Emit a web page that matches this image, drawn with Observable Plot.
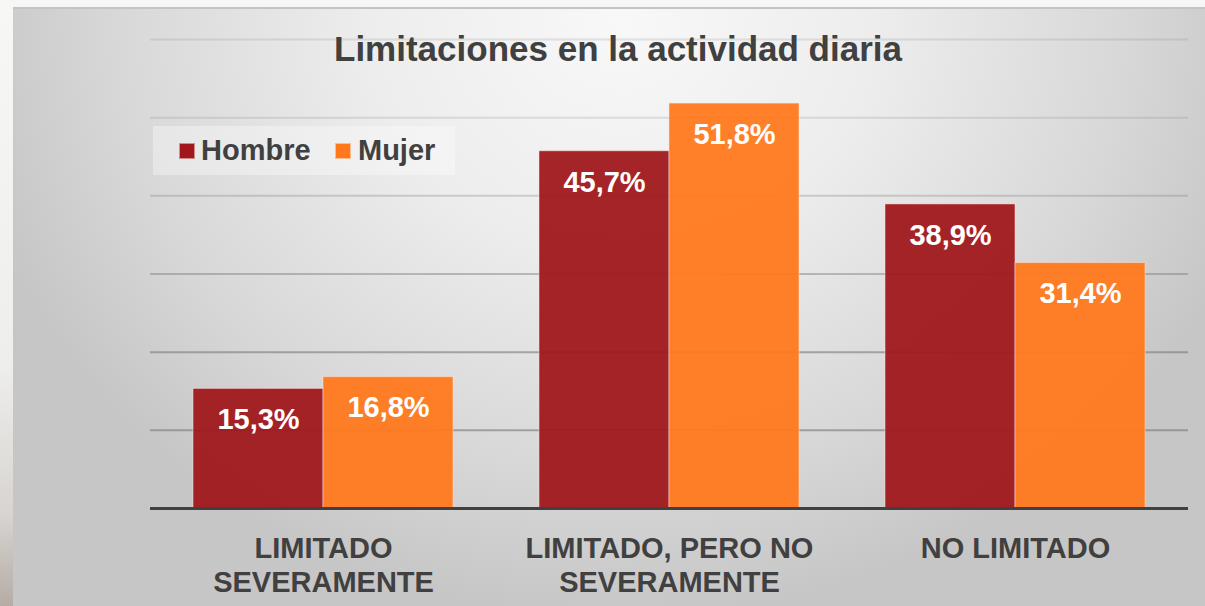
<!DOCTYPE html>
<html><head><meta charset="utf-8">
<script src="https://cdn.jsdelivr.net/npm/d3@7"></script>
<script src="https://cdn.jsdelivr.net/npm/@observablehq/plot@0.6"></script>
<style>
html,body{margin:0;padding:0;width:1205px;height:606px;overflow:hidden;background:#f6f6f4;font-family:"Liberation Sans",Arial,sans-serif;}
#strip{position:absolute;left:0;top:0;width:13px;height:606px;background:linear-gradient(#f7f7f5 0%, #eeeeec 60%, #d8d4d0 85%, #b5aca5 100%);}
#frame{position:absolute;left:13px;top:7px;width:1192px;height:599px;border-top:2px solid #c4c4c4;box-sizing:border-box;background:radial-gradient(ellipse 56% 100% at 51% 2%, #f8f8f8 0%, #ededed 38%, #d8d8d8 75%, #c6c6c6 100%);}
#chart{position:absolute;left:0;top:0;}
#title{position:absolute;left:618px;top:31px;transform:translateX(-50%);font-size:35px;line-height:35px;font-weight:bold;color:#404040;white-space:nowrap;}
#legendbox{position:absolute;left:153px;top:126px;width:302px;height:49px;background:rgba(255,255,255,0.35);}
.sw{position:absolute;width:14px;height:14px;top:143px;border:1px solid rgba(255,255,255,0.5);}
.lt{position:absolute;top:136px;font-size:29px;line-height:29px;font-weight:bold;color:#404040;white-space:nowrap;}
</style>
</head>
<body>
<div id="strip"></div>
<div id="frame"></div>
<div id="chart"></div>
<div id="title"></div>
<div id="legendbox"></div>
<div id="legend"></div>
<script>
const chartTitle = "Limitaciones en la actividad diaria";
const categories = ["LIMITADO\nSEVERAMENTE", "LIMITADO, PERO NO\nSEVERAMENTE", "NO LIMITADO"];
const series = ["Hombre", "Mujer"];
const hombre = [15.3, 45.7, 38.9];
const mujer = [16.8, 51.8, 31.4];
const gridTicks = [10, 20, 30, 40, 50, 60];
const gridOpacity = [0.62, 0.6, 0.45, 0.3, 0.2, 0.18];
const colors = ["#a0181c", "#ff791c"];

const data = categories.flatMap((c, i) => [
  {cat: c, sex: series[0], value: hombre[i]},
  {cat: c, sex: series[1], value: mujer[i]}
]);
const fmt = v => v.toFixed(1).replace(".", ",") + "%";

const gridMarks = gridTicks.map((t, i) =>
  Plot.ruleY([t], {stroke: "#7a7a7a", strokeOpacity: gridOpacity[i], strokeWidth: 2}));

const chart = Plot.plot({
  width: 1205, height: 606,
  marginLeft: 150, marginRight: 17, marginTop: 39, marginBottom: 98,
  style: {background: "transparent", fontFamily: "'Liberation Sans', Arial, sans-serif", color: "#404040"},
  fx: {domain: categories, padding: 0, label: null},
  x: {domain: series, paddingInner: 0, paddingOuter: 0.3257, axis: null},
  y: {domain: [0, 60], axis: null},
  color: {domain: series, range: colors},
  marks: [
    ...gridMarks,
    Plot.barY(data, {fx: "cat", x: "sex", y: "value", fill: "sex", fillOpacity: 0.95, stroke: "#ffe6e0", strokeOpacity: 0.5, strokeWidth: 1}),
    Plot.ruleY([0], {stroke: "#404040", strokeWidth: 3}),
    Plot.text(data, {fx: "cat", x: "sex", y: "value", text: d => fmt(d.value), dy: 31, fill: "white", fontSize: 29, fontWeight: "bold"}),
    Plot.axisFx({anchor: "bottom", tickSize: 0, tickPadding: 25, fontSize: 29, fontWeight: "bold", lineHeight: 1.17, label: null})
  ]
});
document.getElementById("chart").appendChild(chart);
document.getElementById("title").textContent = chartTitle;

const legend = document.getElementById("legend");
const swX = [179, 335], txX = [201, 358];
series.forEach((s, i) => {
  const sw = document.createElement("div");
  sw.className = "sw"; sw.style.left = swX[i] + "px"; sw.style.background = colors[i];
  legend.appendChild(sw);
  const t = document.createElement("div");
  t.className = "lt"; t.style.left = txX[i] + "px"; t.textContent = s;
  legend.appendChild(t);
});
</script>
</body></html>
